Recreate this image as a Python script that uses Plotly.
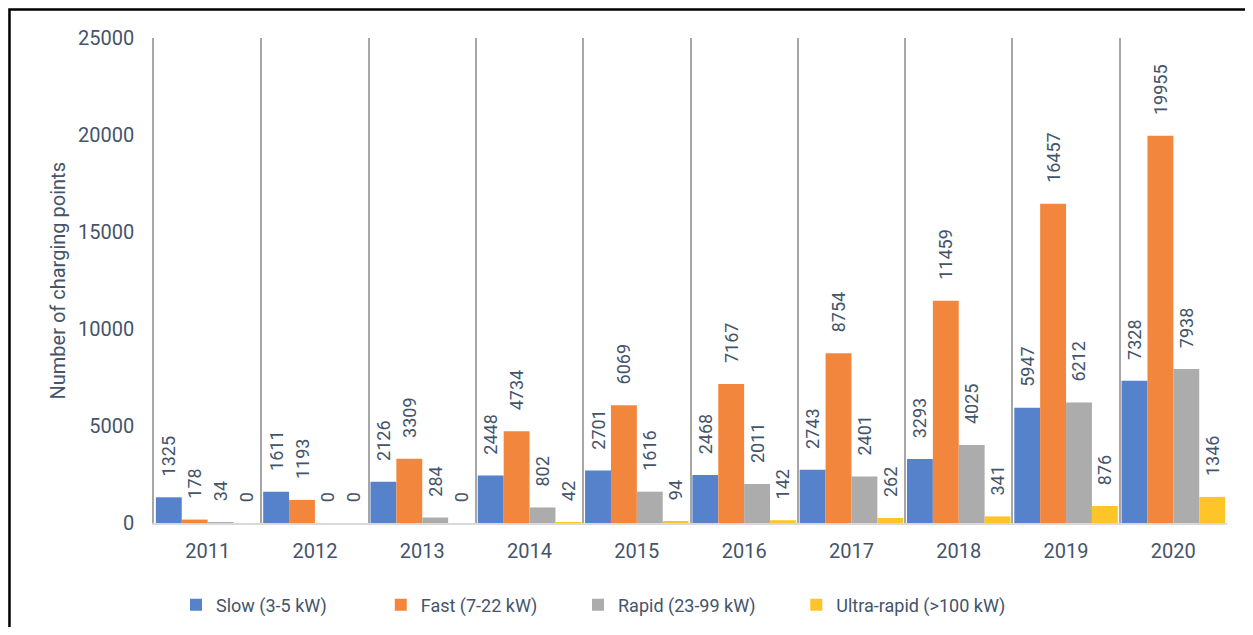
import plotly.graph_objects as go

years = ["2011", "2012", "2013", "2014", "2015", "2016", "2017", "2018", "2019", "2020"]
slow = [1325, 1611, 2126, 2448, 2701, 2468, 2743, 3293, 5947, 7328]
fast = [178, 1193, 3309, 4734, 6069, 7167, 8754, 11459, 16457, 19955]
rapid = [34, 0, 284, 802, 1616, 2011, 2401, 4025, 6212, 7938]
ultra = [0, 0, 0, 42, 94, 142, 262, 341, 876, 1346]
names = ["Slow (3-5 kW)", "Fast (7-22 kW)", "Rapid (23-99 kW)", "Ultra-rapid (>100 kW)"]
colors = ["#5681cb", "#f3863d", "#acacac", "#ffc428"]
legend_pad = [11, 8, 8, 0]

FONT = "Roboto"
TXT = "#44546a"
PAD = "\u00a0" * 4

fig = go.Figure()
for name, vals, col, lp in zip(names, [slow, fast, rapid, ultra], colors, legend_pad):
    fig.add_trace(go.Bar(
        x=years, y=vals, name=name + "\u00a0" * lp,
        marker=dict(color=col, line=dict(width=0)),
        text=[PAD + str(v) for v in vals],
        textposition="outside",
        textangle=-90,
        constraintext="none",
        textfont=dict(family=FONT, size=18, color=TXT),
        cliponaxis=False,
    ))

fig.update_layout(
    width=1237, height=619,
    margin=dict(l=146, r=18, t=30, b=104),
    paper_bgcolor="white", plot_bgcolor="white",
    barmode="group", bargap=0.035, bargroupgap=0,
    font=dict(family=FONT, size=20, color=TXT),
    legend=dict(orientation="h", x=0.0205, xanchor="left",
                yref="container", y=1 - 597 / 619, yanchor="middle",
                font=dict(family=FONT, size=18, color=TXT),
                traceorder="normal"),
    showlegend=True,
)
fig.update_xaxes(
    type="category", tickson="boundaries", showgrid=True, gridcolor="#a6a6a6", gridwidth=1.5,
    ticks="", showline=True, linecolor="#d9d9d9", linewidth=2,
    tickfont=dict(family=FONT, size=20, color=TXT), ticklabelstandoff=9,
)
fig.update_yaxes(
    range=[0, 25000], dtick=5000, tickformat="d", showgrid=False, zeroline=False,
    showline=True, linecolor="#a6a6a6", linewidth=1.5,
    ticks="", tickfont=dict(family=FONT, size=20, color=TXT), ticklabelstandoff=14,
)
fig.add_annotation(
    text="Number of charging points", xref="paper", yref="paper",
    x=-0.0895, y=0.5, textangle=-90, showarrow=False,
    xanchor="center", yanchor="middle",
    font=dict(family=FONT, size=20, color=TXT),
)
fig.add_shape(
    type="rect", xref="paper", yref="paper",
    x0=-0.1347, x1=1.08, y0=-0.4, y1=1.0588,
    line=dict(color="black", width=2.5), fillcolor="rgba(0,0,0,0)", layer="above",
)

fig.write_html("out.html")
